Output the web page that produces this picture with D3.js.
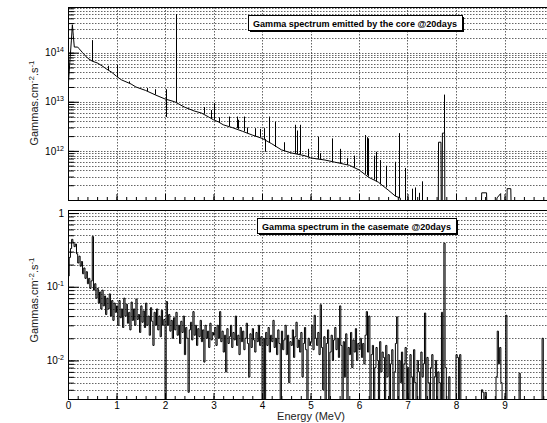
<!DOCTYPE html>
<html>
<head>
<meta charset="utf-8">
<script src="https://cdn.jsdelivr.net/npm/d3@7"></script>
<style>
  body { margin: 0; background: #fff; }
  text { font-family: "Liberation Sans", Arial, sans-serif; }
</style>
</head>
<body>
<script>
// ---- data ----
const xTickLabels = [0, 1, 2, 3, 4, 5, 6, 7, 8, 9];
const coreTitle = "Gamma spectrum emitted by the core @20days";
const casemateTitle = "Gamma spectrum in the casemate @20days";
const yTitle = ["Gammas.cm", "-2", ".s", "-1"];

// core spectrum: continuum, energy (MeV) / flux
const coreEnergy = [0.000, 0.010, 0.040, 0.070, 0.090, 0.110, 0.130, 0.200, 0.230, 0.300,
  0.400, 0.500, 0.600, 0.700, 0.800, 0.900, 1.000, 1.100, 1.300, 1.400,
  1.600, 1.800, 2.000, 2.200, 2.400, 2.600, 2.750, 2.900, 3.000, 3.100,
  3.200, 3.400, 3.600, 3.800, 4.000, 4.200, 4.400, 4.600, 4.800, 4.900,
  5.000, 5.300, 5.500, 5.800, 6.000, 6.200, 6.400, 6.600, 6.750, 6.850,
  6.855, 7.635, 7.640, 7.690, 7.695, 7.715, 7.720, 7.765, 7.770, 8.525,
  8.530, 8.630, 8.635, 8.840, 8.845, 8.920, 8.925, 9.050, 9.055, 9.130,
  9.135, 9.900];
const coreFlux = [2.9e12, 2.5e13, 7.0e13, 1.8e14, 3.7e14, 2.2e14, 1.3e14, 1.3e14, 1.2e14, 1.0e14,
  7.8e13, 6.7e13, 6.2e13, 5.4e13, 4.6e13, 4.0e13, 3.3e13, 2.8e13, 2.3e13, 2.0e13,
  1.7e13, 1.38e13, 1.14e13, 1.0e13, 7.8e12, 6.5e12, 5.9e12, 4.9e12, 4.3e12, 3.9e12,
  3.4e12, 2.95e12, 2.5e12, 2.1e12, 1.8e12, 1.4e12, 1.05e12, 9.1e11, 8.3e11, 7.9e11,
  7.2e11, 6.5e11, 5.9e11, 5.1e11, 4.1e11, 2.9e11, 2.3e11, 1.6e11, 1.2e11, 1.1e11,
  0, 0, 1.5e12, 1.5e12, 0, 0, 2.3e12, 2.3e12, 0, 0,
  1.4e11, 1.4e11, 0, 0, 1.1e11, 1.35e11, 0, 0, 1.7e11, 1.7e11,
  0, 0];

// core spectrum: lines, energy / top of line / foot of line
const corePeakEnergy = [0.505, 0.825, 1.020, 1.250, 1.620, 1.790, 2.015, 2.025, 2.222, 2.800,
  2.950, 3.010, 3.120, 3.310, 3.480, 3.510, 3.620, 3.700, 3.860, 3.960,
  4.050, 4.055, 4.140, 4.270, 4.450, 4.680, 4.730, 4.780, 4.950, 5.160,
  5.200, 5.440, 5.610, 5.750, 5.900, 6.120, 6.160, 6.190, 6.300, 6.350,
  6.440, 6.550, 6.740, 6.830, 6.950, 7.090, 7.150, 7.240, 7.290, 7.760];
const corePeakFlux = [1.8e14, 5.4e13, 5.6e13, 2.6e13, 1.9e13, 1.8e13, 1.8e13, 4.9e12, 6.1e14, 7.8e12,
  6.8e12, 9.5e12, 4.8e12, 5.0e12, 5.0e12, 4.3e12, 5.0e12, 3.0e12, 2.9e12, 2.8e12,
  2.9e12, 9.6e11, 5.0e12, 3.9e12, 1.5e12, 3.4e12, 2.6e12, 3.4e12, 1.1e12, 1.95e12,
  9.0e11, 1.8e12, 1.1e12, 7.2e11, 8.0e11, 2.1e12, 1.9e12, 1.8e12, 8.0e11, 9.6e11,
  6.5e11, 5.0e11, 6.0e11, 2.3e12, 4.5e11, 1.7e11, 1.8e11, 1.4e11, 2.4e11, 1.4e13];
const corePeakBase = [6.7e13, 4.4e13, 3.2e13, 2.4e13, 1.65e13, 1.4e13, 1.13e13, 1.13e13, 9.8e12, 5.7e12,
  4.6e12, 4.3e12, 3.8e12, 3.2e12, 2.9e12, 2.8e12, 2.5e12, 2.3e12, 2.0e12, 1.9e12,
  1.75e12, 1.75e12, 1.5e12, 1.2e12, 1.0e12, 8.8e11, 8.6e11, 8.4e11, 7.6e11, 6.9e11,
  6.8e11, 6.1e11, 5.6e11, 5.2e11, 4.6e11, 3.4e11, 3.2e11, 3.0e11, 2.6e11, 2.4e11,
  2.1e11, 1.8e11, 1.2e11, 1.1e11, 0, 0, 0, 0, 0, 2.3e12];

// casemate spectrum, histogram with 0.025 MeV bins starting at 0 MeV
const casemateBinWidth = 0.025;
const casemate0to1 = [0.14, 0.25, 0.33, 0.44, 0.40, 0.35, 0.38, 0.28, 0.21, 0.26,
  0.19, 0.22, 0.15, 0.18, 0.13, 0.16, 0.11, 0.13, 0.095, 0.12,
  0.48, 0.09, 0.11, 0.07, 0.095, 0.06, 0.085, 0.05, 0.09, 0.055,
  0.075, 0.042, 0.07, 0.05, 0.08, 0.04, 0.065, 0.035, 0.06, 0.045];
const casemate1to2 = [0.055, 0.03, 0.065, 0.038, 0.05, 0.028, 0.07, 0.04, 0.058, 0.032,
  0.045, 0.026, 0.062, 0.035, 0.05, 0.03, 0.068, 0.036, 0.042, 0.024,
  0.055, 0.033, 0.047, 0.028, 0.06, 0.03, 0.04, 0.022, 0.052, 0.034,
  0.016, 0.045, 0.03, 0.05, 0.026, 0.04, 0.021, 0.048, 0.03, 0.036];
const casemate2to3 = [0, 0.063, 0.03, 0.042, 0.025, 0.035, 0.02, 0.038, 0.026, 0.045,
  0.022, 0.03, 0.017, 0.034, 0.024, 0.04, 0.012, 0.028, 0.02, 0.0037,
  0.026, 0.033, 0.019, 0.046, 0.022, 0.03, 0.016, 0.027, 0.021, 0.035,
  0.018, 0.026, 0.0095, 0.03, 0.02, 0.025, 0.015, 0.032, 0.019, 0.024];
const casemate3to4 = [0.022, 0.028, 0.016, 0.03, 0.02, 0.046, 0.018, 0.025, 0.013, 0.022,
  0.007, 0.027, 0.017, 0.021, 0.03, 0.015, 0.024, 0.019, 0.04, 0.016,
  0.022, 0.012, 0.028, 0.018, 0.025, 0.014, 0.02, 0.032, 0.017, 0.006,
  0.023, 0.015, 0.027, 0.019, 0.013, 0.024, 0.018, 0.03, 0.016, 0.021];
const casemate4to5 = [0, 0.02, 0, 0.024, 0.016, 0.028, 0.013, 0.022, 0.018, 0.035,
  0.015, 0.02, 0.012, 0.026, 0.017, 0, 0.025, 0.014, 0.019, 0.03,
  0.012, 0.022, 0.005, 0.018, 0.016, 0.026, 0.011, 0.021, 0.033, 0.015,
  0.019, 0.013, 0.024, 0.006, 0.017, 0.028, 0.014, 0, 0.02, 0.016];
const casemate5to6 = [0.018, 0.03, 0.014, 0.041, 0.02, 0.016, 0.024, 0.012, 0.057, 0.015,
  0.004, 0.021, 0, 0.017, 0.026, 0, 0.013, 0.022, 0.01, 0.019,
  0.028, 0.014, 0.02, 0.011, 0.055, 0.016, 0, 0.018, 0.006, 0.023,
  0, 0.015, 0.012, 0.024, 0.008, 0.019, 0.013, 0.027, 0.01, 0.017];
const casemate6to7 = [0.014, 0.02, 0.011, 0.017, 0.009, 0.022, 0.046, 0.013, 0.04, 0,
  0.012, 0.016, 0, 0.008, 0.015, 0.01, 0, 0.018, 0.007, 0.013,
  0.011, 0, 0.016, 0.006, 0.012, 0, 0.009, 0.014, 0, 0.007,
  0.017, 0.039, 0, 0.01, 0.005, 0.013, 0, 0.009, 0.015, 0];
const casemate7to8 = [0.008, 0, 0.012, 0.006, 0, 0.014, 0.005, 0, 0.01, 0.007,
  0, 0.013, 0.006, 0.009, 0.044, 0, 0.011, 0.005, 0, 0.008,
  0.012, 0, 0.006, 0.01, 0, 0.007, 0.005, 0, 0.045, 0,
  0.39, 0.008, 0, 0, 0.006, 0, 0, 0, 0, 0];
const casemate8to9 = [0.012, 0.011, 0, 0.012, 0, 0, 0, 0, 0, 0,
  0, 0, 0, 0, 0, 0, 0, 0, 0, 0,
  0, 0.004, 0.0037, 0, 0.0037, 0, 0, 0, 0, 0,
  0, 0, 0, 0.006, 0.025, 0.009, 0.015, 0.005, 0, 0];
const casemate9on = [0, 0.041, 0, 0, 0, 0, 0, 0, 0, 0,
  0, 0, 0.0067, 0, 0, 0, 0, 0, 0, 0,
  0, 0, 0, 0, 0, 0, 0, 0, 0, 0,
  0, 0.02, 0, 0, 0, 0];
const casemateFlux = [].concat(casemate0to1, casemate1to2, casemate2to3, casemate3to4,
  casemate4to5, casemate5to6, casemate6to7, casemate7to8, casemate8to9, casemate9on);

// ---- canvas ----
const canvWidth = 547, canvHeight = 423;
const svg = d3.select("body").append("svg")
    .attr("width", canvWidth)
    .attr("height", canvHeight);

const xLeft = 68, xRight = 553;   // frame runs past the picture edge
const xScale = d3.scaleLinear().domain([0, 10]).range([xLeft, xRight]);

const panels = [
  {id: "core", top: 7, bottom: 200, domain: [1e11, 8.5e14], majors: [1e12, 1e13, 1e14],
   showX: false, title: coreTitle, box: [248, 15, 214, 15], titleY: 103},
  {id: "casemate", top: 210, bottom: 399, domain: [3e-3, 1.1], majors: [1e-2, 1e-1, 1],
   showX: true, title: casemateTitle, box: [257, 218, 199, 15], titleY: 300}
];

function supLabel(sel, d) {
  sel.text(null);
  const e = Math.round(Math.log10(d));
  if (e === 0) { sel.append("tspan").text("1"); return; }
  sel.append("tspan").text("10");
  sel.append("tspan").attr("dy", "-4").attr("font-size", "7px").text(e);
}

panels.forEach(function(p) {
  const yScale = d3.scaleLog().domain(p.domain).range([p.bottom, p.top]);
  const yOf = v => v > 0 ? yScale(v) : p.bottom + 2;
  const g = svg.append("g").attr("id", p.id);

  svg.append("clipPath").attr("id", "clip-" + p.id)
    .append("rect")
    .attr("x", xLeft).attr("y", p.top)
    .attr("width", xRight - xLeft).attr("height", p.bottom - p.top);

  // log grid lines at 1..9 x 10^n
  const gridVals = [];
  const lo = Math.log10(p.domain[0]), hi = Math.log10(p.domain[1]);
  for (let n = Math.floor(lo); n <= Math.ceil(hi); n++) {
    for (let k = 1; k <= 9; k++) {
      const v = k * Math.pow(10, n);
      const lv = Math.log10(v);
      if (lv > lo + 1e-6 && lv < hi - 1e-6) gridVals.push(v);
    }
  }
  g.append("g").selectAll("line")
    .data(gridVals)
    .join("line")
    .attr("x1", xLeft).attr("x2", xRight)
    .attr("y1", d => Math.round(yScale(d)) + 0.5)
    .attr("y2", d => Math.round(yScale(d)) + 0.5)
    .attr("stroke", "#222").attr("stroke-width", 0.7)
    .attr("stroke-dasharray", "1.5,1.5");

  g.append("g").selectAll("line")
    .data(xTickLabels.slice(1))
    .join("line")
    .attr("x1", d => Math.round(xScale(d)) + 0.5)
    .attr("x2", d => Math.round(xScale(d)) + 0.5)
    .attr("y1", p.top).attr("y2", p.bottom)
    .attr("stroke", "#222").attr("stroke-width", 0.7)
    .attr("stroke-dasharray", "1.5,1.5");

  // spectrum
  const plot = g.append("g").attr("clip-path", "url(#clip-" + p.id + ")");
  let pts;
  if (p.id === "core") {
    pts = coreEnergy.map((e, i) => [e, coreFlux[i]]);
    plot.selectAll("line.peak")
      .data(corePeakEnergy)
      .join("line")
      .attr("class", "peak")
      .attr("x1", d => Math.round(xScale(d)) + 0.5)
      .attr("x2", d => Math.round(xScale(d)) + 0.5)
      .attr("y1", (d, i) => yOf(corePeakBase[i]))
      .attr("y2", (d, i) => yOf(corePeakFlux[i]))
      .attr("stroke", "#000")
      .attr("stroke-width", 1);
  } else {
    pts = [];
    casemateFlux.forEach(function(v, i) {
      pts.push([i * casemateBinWidth, v]);
      pts.push([(i + 1) * casemateBinWidth, v]);
    });
  }
  const line = d3.line().x(d => xScale(d[0])).y(d => yOf(d[1]));
  plot.append("path")
    .attr("d", line(pts))
    .attr("fill", "none")
    .attr("stroke", "#000")
    .attr("stroke-width", 1)
    .attr("stroke-linejoin", "miter");

  // x ticks (inside)
  const xMinor = d3.range(0, 10.01, 0.2);
  g.append("g")
    .attr("transform", "translate(0," + p.bottom + ")")
    .call(d3.axisBottom(xScale).tickValues(xMinor).tickSize(-3).tickFormat(""))
    .call(a => a.select(".domain").remove());
  const xAx = g.append("g")
    .attr("transform", "translate(0," + p.bottom + ")")
    .call(d3.axisBottom(xScale).tickValues(xTickLabels).tickSize(-6).tickPadding(3)
      .tickFormat(p.showX ? d3.format("d") : ""))
    .call(a => a.select(".domain").remove());
  xAx.selectAll("text").attr("font-size", "10px").attr("font-family", "Liberation Sans, Arial, sans-serif");

  // y ticks (inside)
  g.append("g")
    .attr("transform", "translate(" + xLeft + ",0)")
    .call(d3.axisLeft(yScale).tickValues(gridVals).tickSize(-6).tickFormat(""))
    .call(a => a.select(".domain").remove());
  const yAx = g.append("g")
    .attr("transform", "translate(" + xLeft + ",0)")
    .call(d3.axisLeft(yScale).tickValues(p.majors).tickSize(-11).tickPadding(4).tickFormat(""))
    .call(a => a.select(".domain").remove());
  yAx.selectAll(".tick text")
    .attr("font-size", "10px")
    .attr("font-family", "Liberation Sans, Arial, sans-serif")
    .each(function(d) { supLabel(d3.select(this), d); });

  // frame
  g.append("rect")
    .attr("x", xLeft + 0.5).attr("y", p.top + 0.5)
    .attr("width", xRight - xLeft).attr("height", p.bottom - p.top)
    .attr("fill", "none").attr("stroke", "#000").attr("stroke-width", 1);

  // y title
  const t = g.append("text")
    .attr("transform", "translate(38," + p.titleY + ") rotate(-90)")
    .attr("text-anchor", "middle")
    .attr("font-size", "11px")
    .attr("fill", "#222");
  t.append("tspan").text(yTitle[0]);
  t.append("tspan").attr("dy", "-4").attr("font-size", "8px").text(yTitle[1]);
  t.append("tspan").attr("dy", "4").text(yTitle[2]);
  t.append("tspan").attr("dy", "-4").attr("font-size", "8px").text(yTitle[3]);

  // title box with shadow
  const b = p.box;
  g.append("rect").attr("x", b[0] + 2).attr("y", b[1] + 2).attr("width", b[2]).attr("height", b[3])
    .attr("fill", "#000");
  g.append("rect").attr("x", b[0] + 0.5).attr("y", b[1] + 0.5).attr("width", b[2]).attr("height", b[3])
    .attr("fill", "#fff").attr("stroke", "#000").attr("stroke-width", 1);
  const tt = g.append("text")
    .attr("x", b[0] + b[2] / 2).attr("y", b[1] + b[3] / 2 + 4)
    .attr("text-anchor", "middle")
    .attr("font-weight", "bold")
    .attr("font-size", "10px")
    .text(p.title);
  const len = tt.node().getComputedTextLength();
  tt.attr("font-size", (10 * (b[2] - 10) / len).toFixed(2) + "px");
});

// x axis title
svg.append("text")
  .attr("x", 311).attr("y", 420)
  .attr("text-anchor", "middle")
  .attr("font-size", "11px")
  .attr("fill", "#222")
  .text("Energy (MeV)");
</script>
</body>
</html>
